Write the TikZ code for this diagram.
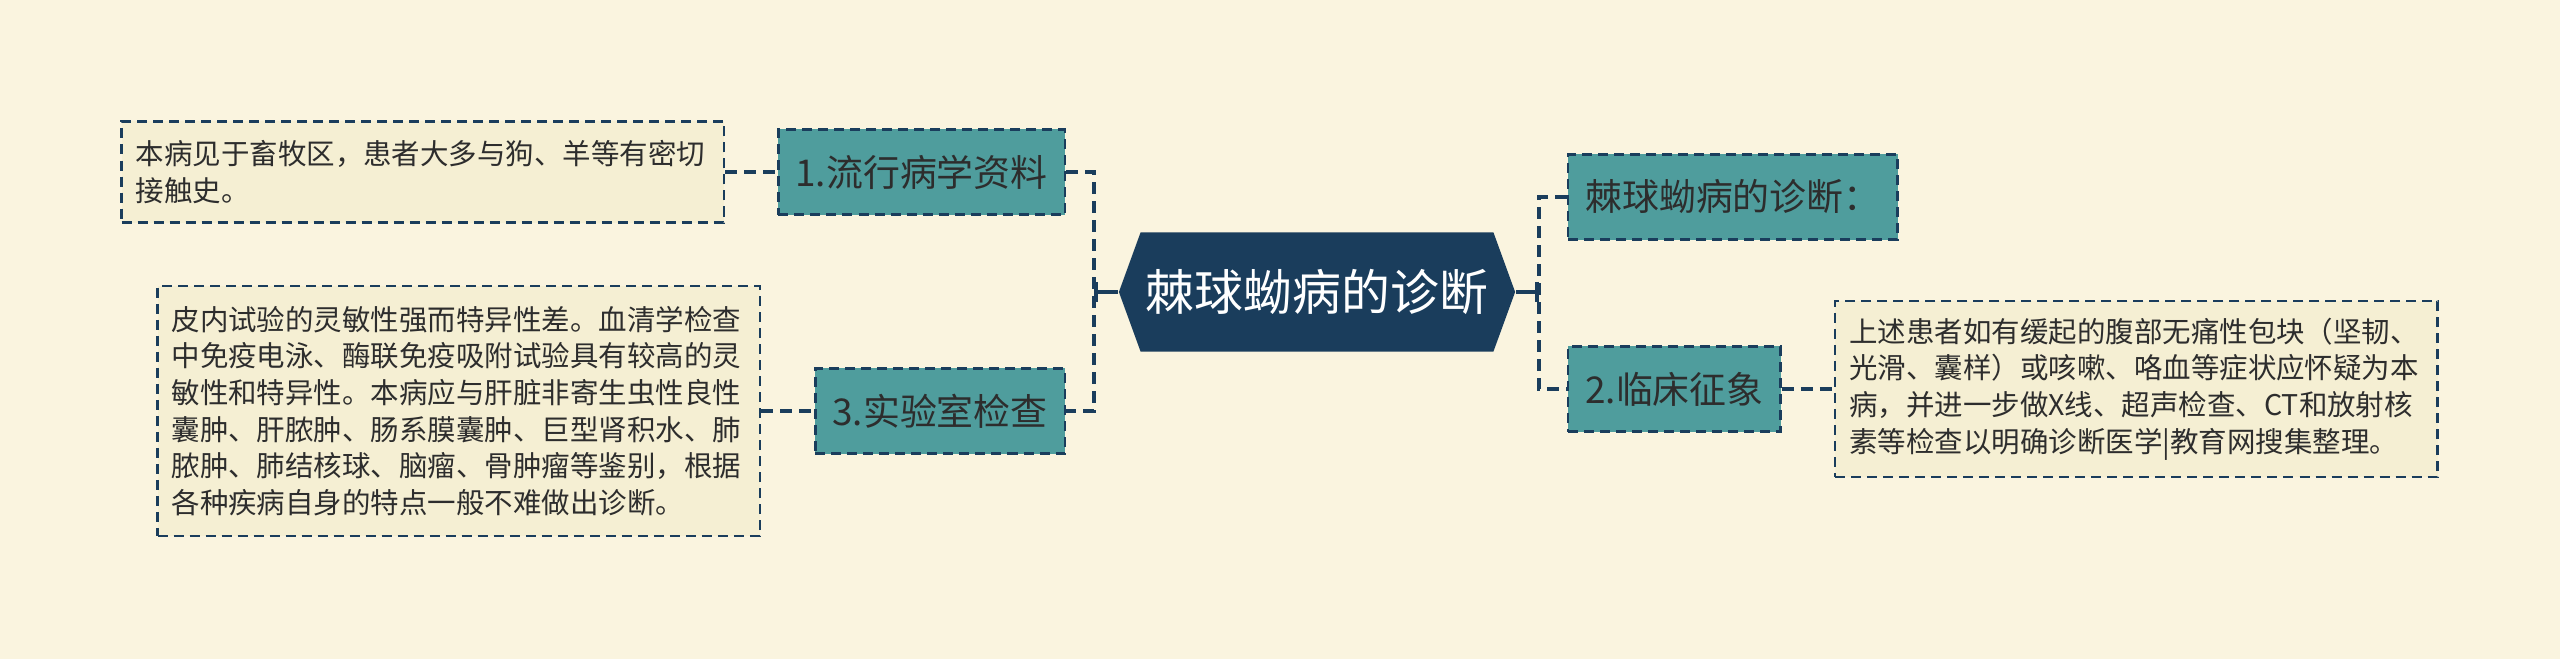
\documentclass[tikz,border=0pt]{standalone}
\usepackage{fontspec}
\setmainfont{Noto Sans CJK SC}
\usepackage{xcolor}
\usepackage{tikz}
\usetikzlibrary{shapes,arrows,arrows.meta,positioning}
\definecolor{bgcream}{RGB}{250,244,223}
\definecolor{notefill}{RGB}{245,239,211}
\definecolor{branchteal}{RGB}{79,157,157}
\definecolor{navy}{RGB}{26,61,92}
\definecolor{inkgray}{RGB}{45,45,45}

\begin{document}
\begin{tikzpicture}[x=0.01cm,y=-0.01cm,semithick]
  \tikzstyle{branch}=[draw=navy,line width=0.7pt,dash pattern=on 0.1cm off 0.06cm,fill=branchteal,text=inkgray,font=\fontsize{10.5}{12}\selectfont,minimum height=0.85cm,inner xsep=0.17cm,inner ysep=0pt]
  \tikzstyle{note}=[draw=navy,line width=0.7pt,dash pattern=on 0.1cm off 0.06cm,fill=notefill,text=inkgray,font=\fontsize{8.1}{10.44}\selectfont,text width=5.74cm,align=left,inner xsep=0.14cm,inner ysep=0pt]
  \tikzstyle{link}=[draw=navy,line width=1pt,dash pattern=on 0.12cm off 0.07cm]
  \tikzstyle{stem}=[draw=navy,line width=1.2pt,-{Bar[width=0.2cm]}]

  \useasboundingbox (0,0) rectangle (2560,659);
  \fill[bgcream] (0,0) rectangle (2560,659);

  \node[signal,signal to=east and west,signal pointer angle=140,fill=navy,text=white,font=\fontsize{13.9}{16}\selectfont,minimum width=3.96cm,minimum height=1.19cm,inner sep=0pt] (ROOT) at (1317,292) {棘球蚴病的诊断};

  \node[branch,anchor=east] (EPI) at (1066,172) {1.流行病学资料};
  \node[branch,anchor=east] (LAB) at (1066,411) {3.实验室检查};
  \node[branch,anchor=west] (DIAG) at (1567,197) {棘球蚴病的诊断：};
  \node[branch,anchor=west] (CLIN) at (1567,389) {2.临床征象};

  \node[note,left=0.52cm of EPI,minimum height=1.01cm] (epinote) {本病见于畜牧区，患者大多与狗、羊等有密切\\接触史。};
  \node[note,left=0.53cm of LAB,minimum height=2.5cm] (labnote) {皮内试验的灵敏性强而特异性差。血清学检查\\中免疫电泳、酶联免疫吸附试验具有较高的灵\\敏性和特异性。本病应与肝脏非寄生虫性良性\\囊肿、肝脓肿、肠系膜囊肿、巨型肾积水、肺\\脓肿、肺结核球、脑瘤、骨肿瘤等鉴别，根据\\各种疾病自身的特点一般不难做出诊断。};
  \node[note,right=0.52cm of CLIN,minimum height=1.76cm] (clinnote) {上述患者如有缓起的腹部无痛性包块（坚韧、\\光滑、囊样）或咳嗽、咯血等症状应怀疑为本\\病，并进一步做X线、超声检查、CT和放射核\\素等检查以明确诊断医学|教育网搜集整理。};

  \coordinate (lefthub) at (1094,292);
  \coordinate (righthub) at (1539,292);

  \draw[stem] (ROOT.west) -- (lefthub);
  \draw[stem] (ROOT.east) -- (righthub);
  \draw[link] (EPI.east) -| (lefthub) |- (LAB.east);
  \draw[link] (DIAG.west) -| (righthub) |- (CLIN.west);

  \draw[link] (epinote) -- (EPI);
  \draw[link] (labnote) -- (LAB);
  \draw[link] (CLIN) -- (clinnote);
\end{tikzpicture}
\end{document}
